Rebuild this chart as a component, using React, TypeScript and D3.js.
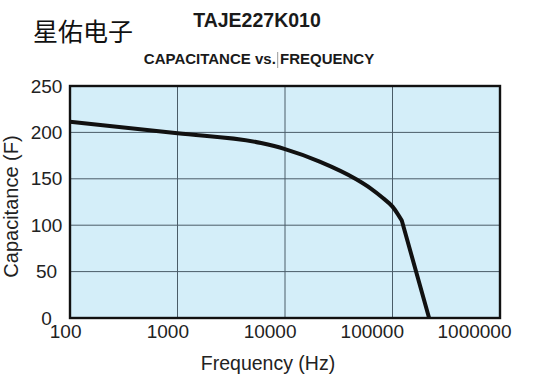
import React from "react";
import * as d3 from "d3";

const freqs = [100, 1000, 6000, 10000, 21000, 46000, 62000, 82000, 100000, 112000, 122000, 219000];
const caps = [211.5, 199, 188.5, 182, 168.5, 149.5, 140, 129, 120, 112, 105, 0];
const xTicks = [100, 1000, 10000, 100000, 1000000];
const yTicks = [0, 50, 100, 150, 200, 250];

const W = 549, H = 377;
const left = 70, right = 500, top = 86, bottom = 318;

export default function App() {
  const x = d3.scaleLog().domain([100, 1000000]).range([left, right]);
  const y = d3.scaleLinear().domain([0, 250]).range([bottom, top]);
  const pts: [number, number][] = freqs.map((f, i) => [x(f), y(caps[i])]);
  const curved = d3.line().curve(d3.curveMonotoneX)(pts.slice(0, -1)) || "";
  const last = pts[pts.length - 1];
  const path = curved + `L${last[0]},${last[1]}`;
  const font = "'Liberation Sans', Arial, Helvetica, sans-serif";
  return (
    <svg width={W} height={H} style={{ position: "absolute", left: 0, top: 0, background: "#fff" }}>
      <text x={33} y={41} fontFamily="'Noto Sans CJK SC', sans-serif" fontSize={25} fill="#111">星佑电子</text>
      <text x={257} y={26.5} textAnchor="middle" fontFamily={font} fontWeight="bold" fontSize={19.5} fill="#1a1a1a">TAJE227K010</text>
      <text x={259} y={64} textAnchor="middle" fontFamily={font} fontWeight="bold" fontSize={15} fill="#1a1a1a">CAPACITANCE vs. FREQUENCY</text>
      <line x1={277.7} x2={277.7} y1={52} y2={68} stroke="#999" strokeWidth={1} />
      <rect x={left} y={top} width={right - left} height={bottom - top} fill="#d4eef9" />
      {xTicks.slice(1, -1).map((t) => (
        <line key={"gx" + t} x1={x(t)} x2={x(t)} y1={top} y2={bottom} stroke="#4a5c68" strokeWidth={1} />
      ))}
      {yTicks.slice(1, -1).map((t) => (
        <line key={"gy" + t} x1={left} x2={right} y1={y(t)} y2={y(t)} stroke="#4a5c68" strokeWidth={1} />
      ))}
      <path d={path} fill="none" stroke="#111" strokeWidth={4} strokeLinejoin="round" />
      <rect x={left} y={top} width={right - left} height={bottom - top} fill="none" stroke="#111" strokeWidth={2.4} />
      {yTicks.map((t) => (
        <text key={"yl" + t} x={46.5} y={y(t) + 6.5} textAnchor="middle" fontFamily={font} fontSize={19} fill="#222">{t}</text>
      ))}
      {xTicks.map((t) => (
        <text key={"xl" + t} x={x(t) + 11.5} y={338} textAnchor="end" fontFamily={font} fontSize={19} fill="#222">{t}</text>
      ))}
      <text x={268} y={370} textAnchor="middle" fontFamily={font} fontSize={19.5} fill="#222">Frequency (Hz)</text>
      <text transform={`translate(18,206.5) rotate(-90)`} textAnchor="middle" fontFamily={font} fontSize={20} fill="#222">Capacitance (F)</text>
    </svg>
  );
}
